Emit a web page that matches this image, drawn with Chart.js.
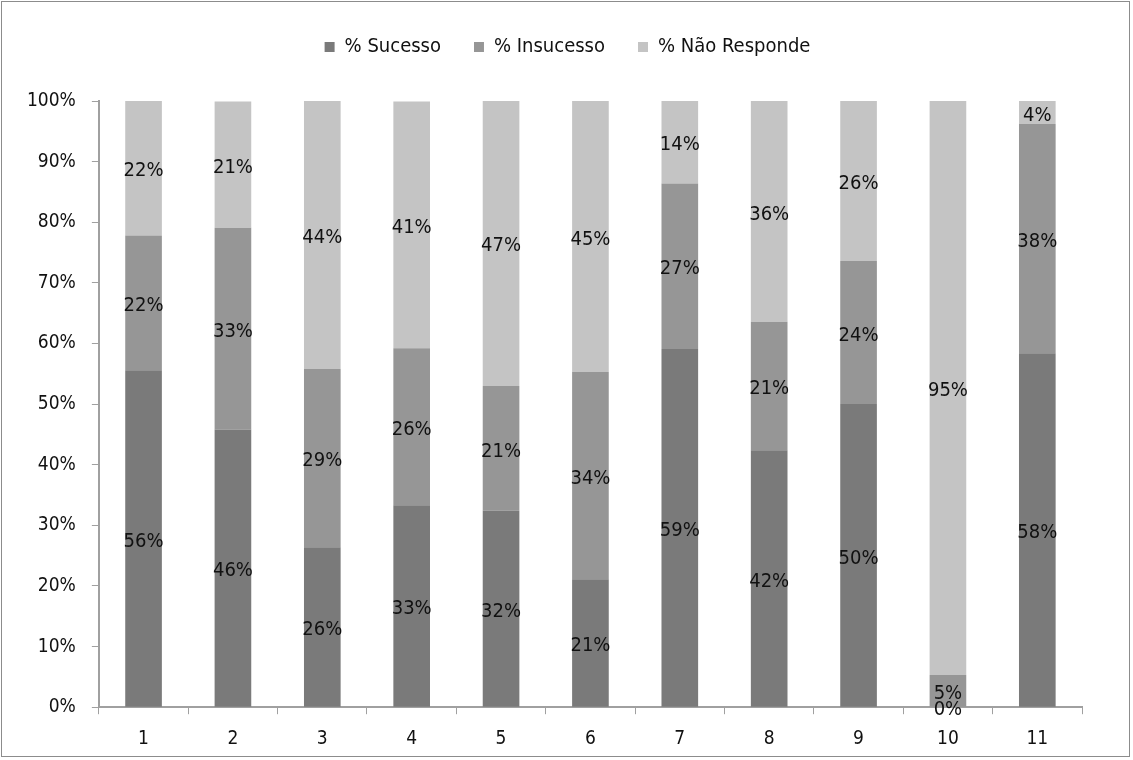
<!DOCTYPE html>
<html lang="en">
<head>
  <meta charset="UTF-8">
  <title>Sucesso / Insucesso / Não Responde</title>
  <script src="https://cdn.jsdelivr.net/npm/chart.js"></script>
  <style>
    body {
      margin: 0;
      padding: 0;
      background-color: #FFFFFF;
    }
    .frame {
      position: absolute;
      left: 1px;
      top: 1px;
      width: 1129px;
      height: 756px;
      border: 1px solid #8C8C8C;
      box-sizing: border-box;
    }
    .wrap {
      position: absolute;
      left: 0;
      top: 0;
      width: 1133px;
      height: 760px;
    }
  </style>
</head>
<body>
  <div class="frame"></div>
  <div class="wrap"><canvas id="chart"></canvas></div>

  <script>
    const categories = ['1', '2', '3', '4', '5', '6', '7', '8', '9', '10', '11'];
    const sucesso     = [55.6, 45.8, 26.4, 33.3, 32.4, 21.1, 59.1, 42.4, 50.0, 0.0, 58.4];
    const insucesso   = [22.2, 33.3, 29.4, 25.9, 20.6, 34.2, 27.3, 21.2, 23.6, 5.3, 37.8];
    const naoResponde = [22.2, 20.8, 44.2, 40.7, 47.1, 44.7, 13.6, 36.4, 26.4, 94.7, 3.8];

    const FONT = "'DejaVu Sans Condensed', 'Liberation Sans Narrow', 'DejaVu Sans', sans-serif";

    // labels in the middle of each segment
    const segLabels = {
      id: 'segLabels',
      afterDatasetsDraw(chart) {
        const ctx = chart.ctx;
        ctx.save();
        ctx.font = '20px ' + FONT;
        ctx.fillStyle = '#111111';
        ctx.textAlign = 'center';
        ctx.textBaseline = 'middle';
        chart.data.datasets.forEach((ds, i) => {
          chart.getDatasetMeta(i).data.forEach((bar, j) => {
            const mid = (bar.y + bar.base) / 2;
            ctx.fillText(Math.round(ds.data[j]) + '%', bar.x, mid + 3);
          });
        });
        ctx.restore();
      }
    };

    // more room under the legend, and push it a bit right
    const legendSpace = {
      id: 'legendSpace',
      beforeInit(chart) {
        const fit = chart.legend.fit;
        chart.legend.fit = function () {
          fit.bind(chart.legend)();
          this.height += 34;
        };
      },
      afterLayout(chart) {
        chart.legend.left += 21;
        chart.legend.right += 21;
      }
    };

    new Chart(document.getElementById('chart'), {
      type: 'bar',
      data: {
        labels: categories,
        datasets: [
          { label: '% Sucesso', data: sucesso, backgroundColor: '#7A7A7A' },
          { label: '% Insucesso', data: insucesso, backgroundColor: '#969696' },
          { label: '% Não Responde', data: naoResponde, backgroundColor: '#C4C4C4' }
        ]
      },
      options: {
        responsive: true,
        maintainAspectRatio: false,
        animation: false,
        layout: { padding: { left: 11, right: 51, top: 4, bottom: -3 } },
        datasets: { bar: { barPercentage: 0.41, categoryPercentage: 1.0 } },
        plugins: {
          tooltip: { enabled: false },
          legend: {
            position: 'top',
            labels: {
              boxWidth: 10,
              boxHeight: 10,
              padding: 33,
              color: '#111111',
              font: { family: FONT, size: 20 }
            }
          }
        },
        scales: {
          x: {
            stacked: true,
            grid: {
              display: true,
              drawOnChartArea: false,
              offset: true,
              tickLength: 7,
              color: '#A0A0A0'
            },
            border: { color: '#A0A0A0', width: 2 },
            ticks: { color: '#111111', font: { family: FONT, size: 19 }, padding: 13 }
          },
          y: {
            stacked: true,
            min: 0,
            max: 100,
            grid: {
              display: true,
              drawOnChartArea: false,
              tickLength: 7,
              color: '#A0A0A0'
            },
            border: { color: '#A0A0A0', width: 2 },
            ticks: {
              stepSize: 10,
              color: '#111111',
              font: { family: FONT, size: 19 },
              padding: 16,
              callback: v => v + '%'
            }
          }
        }
      },
      plugins: [segLabels, legendSpace]
    });
  </script>
</body>
</html>
